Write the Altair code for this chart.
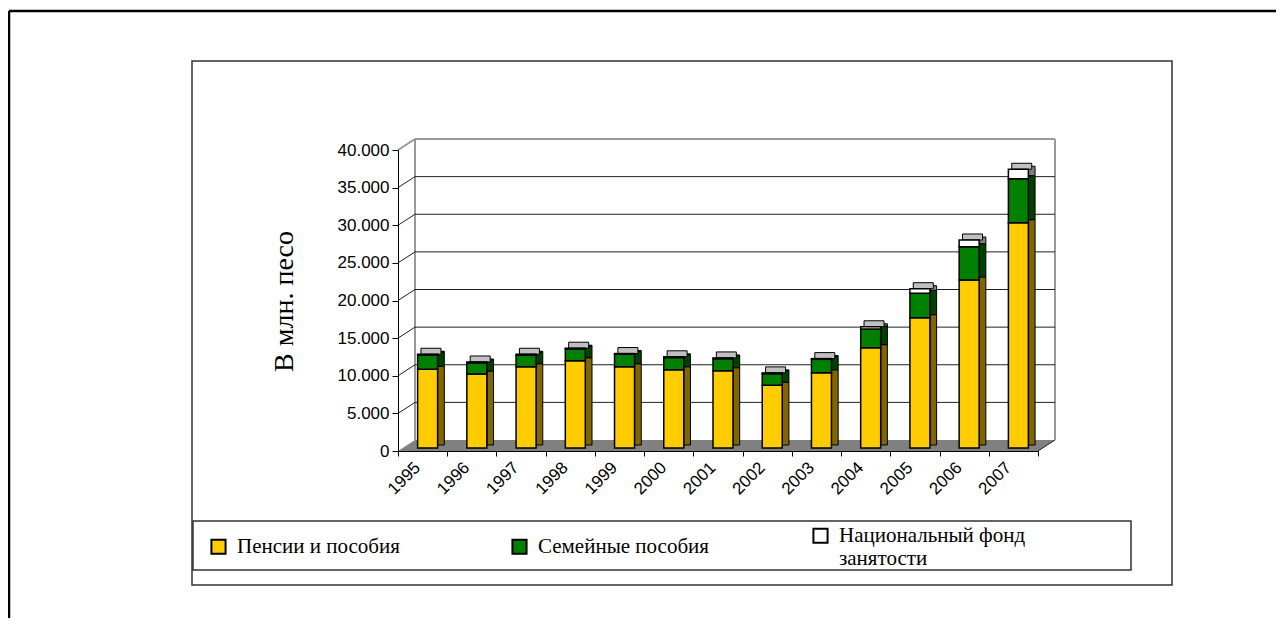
import altair as alt
import pandas as pd

# ---- data ----
years = [str(y) for y in range(1995, 2008)]
pensions = [10460, 9830, 10800, 11600, 10800, 10400, 10270, 8330, 10000, 13330, 17320, 22330, 29940]
family = [1900, 1500, 1560, 1560, 1650, 1620, 1600, 1550, 1780, 2480, 3230, 4420, 5850]
fund = [100, 100, 100, 100, 100, 100, 100, 100, 100, 300, 620, 890, 1250]
series = ["Пенсии и пособия", "Семейные пособия", "Национальный фонд занятости"]
front_colors = ["#FFCC00", "#008000", "#FFFFFF"]
side_colors = ["#806600", "#004000", "#808080"]
y_ticks = [0, 5000, 10000, 15000, 20000, 25000, 30000, 35000, 40000]

# ---- geometry / style constants ----
W, H = 640, 301
YMAX = 40000
N = len(years)
DX, DY = 17, 11                      # 3D depth of the walls in pixels
du = DX / W * N                      # depth in band units
dv = DY / H * YMAX                   # depth in value units

rows = []
for i, yr in enumerate(years):
    for k, vals in enumerate([pensions, family, fund]):
        rows.append({"year": yr, "series": series[k], "ord": k,
                     "value": vals[i], "side": side_colors[k]})
df = pd.DataFrame(rows)

yscale = alt.Scale(domain=[0, YMAX], nice=False, zero=True)
uscale = alt.Scale(domain=[0, N], nice=False, zero=False)
xscale = alt.Scale(domain=years, paddingInner=0, paddingOuter=0)

y_axis = alt.Axis(values=y_ticks, grid=False,
                  labelExpr="replace(format(datum.value, ','), ',', '.')",
                  labelFont="Liberation Sans", labelFontSize=17,
                  labelColor="black", labelPadding=3, tickSize=6,
                  tickColor="black", domainColor="black", zindex=1,
                  title="В млн. песо", titleFont="Liberation Serif",
                  titleFontSize=28, titleFontWeight="normal",
                  titleColor="black", titleAngle=270, titleX=-114,
                  titleY=151, titleAlign="center", titleBaseline="middle")

one = alt.Data(values=[{"a": 1}])

# ---- frames ----
outer_top = alt.Chart(one).mark_rule(color="black", strokeWidth=2.5).encode(
    x=alt.value(-389), x2=alt.value(900), y=alt.value(-139), y2=alt.value(-139))
outer_left = alt.Chart(one).mark_rule(color="black", strokeWidth=2.5).encode(
    x=alt.value(-389), x2=alt.value(-389), y=alt.value(-139), y2=alt.value(500))
chart_box = alt.Chart(one).mark_rect(fill="white", stroke="#333333", strokeWidth=1.5).encode(
    x=alt.value(-206), x2=alt.value(774), y=alt.value(-89), y2=alt.value(435))
legend_box = alt.Chart(one).mark_rect(fill="transparent", stroke="#333333", strokeWidth=1.5).encode(
    x=alt.value(-205), x2=alt.value(733), y=alt.value(371), y2=alt.value(420))

# ---- 3D walls / floor built on the value scale ----
floor_df = pd.DataFrame({"u": [0, du, N, N + du],
                         "top": [0, dv, dv, dv],
                         "bot": [0, 0, 0, dv]})
floor = alt.Chart(floor_df).mark_area(color="#808080").encode(
    x=alt.X("u:Q", scale=uscale, axis=None),
    y=alt.Y("top:Q", scale=yscale, axis=y_axis),
    y2="bot:Q")

inner = [v for v in y_ticks if 0 < v < YMAX]
black_lines = pd.DataFrame(
    [{"u0": du, "u1": N + du, "v0": v + dv, "v1": v + dv} for v in inner] +
    [{"u0": 0, "u1": du, "v0": v, "v1": v + dv} for v in inner] +
    [{"u0": N, "u1": N + du, "v0": 0, "v1": dv}])
gray_lines = pd.DataFrame([
    {"u0": du, "u1": du, "v0": dv, "v1": YMAX + dv},
    {"u0": N + du, "u1": N + du, "v0": dv, "v1": YMAX + dv},
    {"u0": du, "u1": N + du, "v0": YMAX + dv, "v1": YMAX + dv},
    {"u0": 0, "u1": du, "v0": YMAX, "v1": YMAX + dv},
])


def lines(d, color, width):
    return alt.Chart(d).mark_rule(color=color, strokeWidth=width).encode(
        x=alt.X("u0:Q", scale=uscale, axis=None), x2="u1:Q",
        y=alt.Y("v0:Q", scale=yscale, axis=y_axis), y2="v1:Q")


grid = lines(black_lines, "#202020", 1)
walls = lines(gray_lines, "#999999", 2)

# ---- bars ----
side = alt.Chart(df).mark_bar(size=6.7, xOffset=18.35, x2Offset=18.35, yOffset=-6, y2Offset=-6,
                              stroke="black", strokeWidth=1).encode(
    x=alt.X("year:O", scale=xscale, axis=None),
    y=alt.Y("value:Q", scale=yscale, axis=y_axis, stack="zero"),
    fill=alt.Fill("side:N", scale=None),
    order=alt.Order("ord:Q"))

lid = alt.Chart(df).transform_aggregate(
    total="sum(value)", groupby=["year"]
).mark_tick(size=20, thickness=6, color="#C0C0C0", stroke="black", strokeWidth=1,
            xOffset=8.35, yOffset=-6, opacity=1).encode(
    x=alt.X("year:O", scale=xscale, axis=None),
    y=alt.Y("total:Q", scale=yscale, axis=y_axis))

label_expr = ("datum.label == 'Национальный фонд занятости' ? "
              "['Национальный фонд', 'занятости'] : datum.label")

front = alt.Chart(df).mark_bar(size=20, xOffset=5, x2Offset=5, yOffset=-3, y2Offset=-3,
                               stroke="black", strokeWidth=1.5).encode(
    x=alt.X("year:O", scale=xscale, title=None,
            axis=alt.Axis(tickBand="extent", labelAngle=-45, labelAlign="right",
                          labelBaseline="top", labelFont="Liberation Sans",
                          labelFontSize=17, labelColor="black", labelOffset=-11,
                          labelPadding=3, tickSize=5, tickColor="black",
                          domainColor="black", grid=False, zindex=1)),
    y=alt.Y("value:Q", scale=yscale, stack="zero", axis=y_axis),
    color=alt.Color("series:N", scale=alt.Scale(domain=series, range=front_colors),
                    legend=alt.Legend(title=None, orient="none", legendX=-190, legendY=375,
                                      direction="horizontal", columns=3,
                                      symbolType="square", symbolSize=200,
                                      symbolStrokeColor="black", symbolStrokeWidth=2,
                                      labelFont="Liberation Serif", labelFontSize=21,
                                      labelColor="black", labelLimit=400, labelOffset=8,
                                      columnPadding=84, gridAlign="all",
                                      labelExpr=label_expr)),
    order=alt.Order("ord:Q"))

chart = alt.layer(
    outer_top, outer_left, chart_box, legend_box, floor, walls, grid, side, lid, front
).resolve_scale(x="independent").properties(
    width=W, height=H,
    autosize=alt.AutoSizeParams(type="none"),
    padding={"left": 390, "top": 142, "right": 238, "bottom": 167},
).configure_view(stroke="transparent")

chart.save("out.html", embed_options={"renderer": "svg", "actions": False})
